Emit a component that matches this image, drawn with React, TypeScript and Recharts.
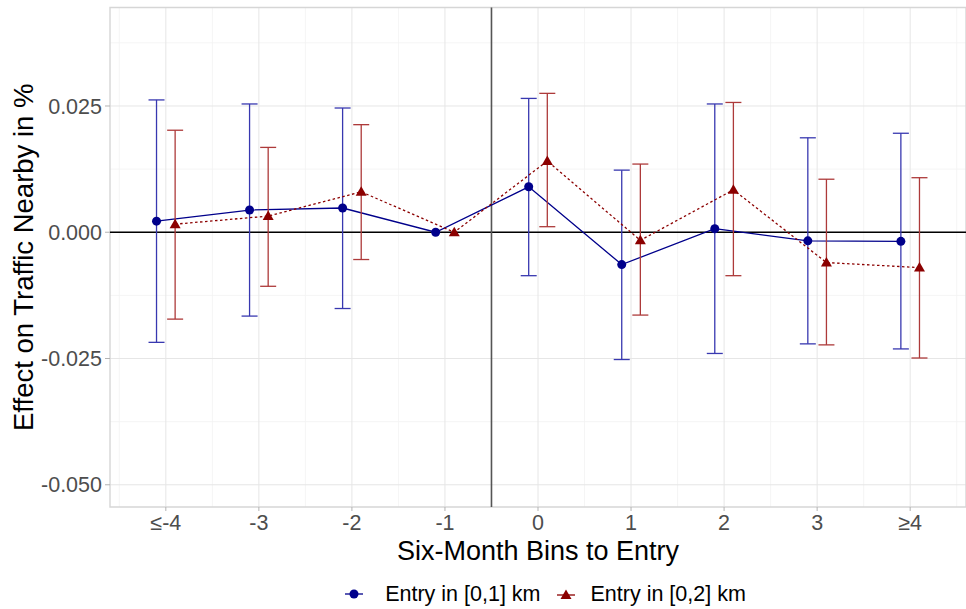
import React from "react";
import {
  ComposedChart,
  Line,
  XAxis,
  YAxis,
  CartesianGrid,
  ErrorBar,
  ReferenceLine,
  ReferenceArea,
  Legend,
} from "recharts";

// bins relative to entry (six-month periods)
const bins = ["≤-4", "-3", "-2", "-1", "0", "1", "2", "3", "≥4"];

// Entry in [0,1] km
const nearEst = [0.0022, 0.0044, 0.0048, 0, 0.009, -0.0064, 0.0007, -0.0017, -0.0018];
const nearLow = [-0.0218, -0.0166, -0.0151, null, -0.0086, -0.0252, -0.024, -0.0221, -0.0231];
const nearHigh = [0.0262, 0.0254, 0.0246, null, 0.0265, 0.0123, 0.0254, 0.0187, 0.0196];

// Entry in [0,2] km
const wideEst = [0.0016, 0.0032, 0.008, 0, 0.0141, -0.0016, 0.0084, -0.006, -0.007];
const wideLow = [-0.0172, -0.0107, -0.0054, null, 0.0011, -0.0164, -0.0086, -0.0223, -0.0249];
const wideHigh = [0.0202, 0.0168, 0.0213, null, 0.0275, 0.0135, 0.0257, 0.0105, 0.0108];

const yTicks = [-0.05, -0.025, 0, 0.025];
const yMinor = [-0.0375, -0.0125, 0.0125, 0.0375];
const xTicks = bins.map((_, i) => i + 1);
const xMinor = [0.5, 1.5, 2.5, 3.5, 4.5, 5.5, 6.5, 7.5, 8.5, 9.5];
const entryLine = 4.5; // between -1 and 0

const Y_DOMAIN: [number, number] = [-0.0544, 0.0445];
const X_DOMAIN: [number, number] = [0.4, 9.6];

const BLUE = "#00008B";
const BLUE_ERR = "#3838b0";
const RED = "#8B0000";
const RED_ERR = "#ad3a3a";

const build = (est: number[], lo: (number | null)[], hi: (number | null)[], shift: number) =>
  est.map((v, i) => ({
    x: i + 1 + shift,
    y: v,
    err: lo[i] == null || hi[i] == null ? null : [v - (lo[i] as number), (hi[i] as number) - v],
  }));

const nearData = build(nearEst, nearLow, nearHigh, -0.1);
const wideData = build(wideEst, wideLow, wideHigh, 0.1);

const Triangle = (props: any) => {
  const { cx, cy, fill, index } = props;
  if (cx == null || cy == null) return null;
  return (
    <polygon
      key={`tri-${index}`}
      points={`${cx},${cy - 5.5} ${cx - 5.5},${cy + 4} ${cx + 5.5},${cy + 4}`}
      fill={fill}
    />
  );
};

const renderLegend = () => (
  <div
    style={{
      height: 30,
      display: "flex",
      alignItems: "center",
      justifyContent: "center",
      paddingLeft: 125,
      fontSize: 21.5,
      color: "#000",
    }}
  >
    <svg width={18} height={14} style={{ marginRight: 22 }}>
      <line x1={0} y1={7} x2={18} y2={7} stroke={BLUE} strokeWidth={1.3} />
      <circle cx={9} cy={7} r={4.5} fill={BLUE} />
    </svg>
    <span style={{ marginRight: 16 }}>Entry in [0,1] km</span>
    <svg width={18} height={14} style={{ marginRight: 16 }}>
      <line x1={0} y1={8} x2={18} y2={8} stroke={RED} strokeWidth={1.3} />
      <polygon points="9,2.5 3.5,12 14.5,12" fill={RED} />
    </svg>
    <span>Entry in [0,2] km</span>
  </div>
);

const tickStyle = { fill: "#4d4d4d", fontSize: 21.5 };

export default function App() {
  return (
    <div
      style={{
        position: "absolute",
        left: 0,
        top: 0,
        width: 966,
        height: 609,
        background: "#fff",
        fontFamily: "'Liberation Sans', Arial, sans-serif",
      }}
    >
      <ComposedChart
        width={966}
        height={609}
        margin={{ top: 7.5, right: 0, bottom: 0, left: 0 }}
      >
        <CartesianGrid
          stroke="#f3f3f3"
          strokeWidth={0.8}
          horizontalValues={yMinor}
          verticalValues={xMinor}
        />
        <CartesianGrid
          stroke="#e6e6e6"
          strokeWidth={1}
          horizontalValues={yTicks}
          verticalValues={xTicks}
        />
        <ReferenceArea
          x1={X_DOMAIN[0]}
          x2={X_DOMAIN[1]}
          y1={Y_DOMAIN[0]}
          y2={Y_DOMAIN[1]}
          fill="none"
          stroke="#d6d6d6"
          strokeWidth={1.4}
        />
        <XAxis
          dataKey="x"
          type="number"
          domain={X_DOMAIN}
          allowDataOverflow
          ticks={xTicks}
          tickFormatter={(v: number) => bins[v - 1]}
          axisLine={false}
          tickLine={{ stroke: "#b3b3b3" }}
          tickSize={4}
          tickMargin={4}
          tick={tickStyle}
          height={72}
          interval={0}
          label={{
            value: "Six-Month Bins to Entry",
            position: "insideBottom",
            offset: 19,
            fill: "#000",
            fontSize: 27,
          }}
        />
        <YAxis
          type="number"
          domain={Y_DOMAIN}
          allowDataOverflow
          ticks={yTicks}
          tickFormatter={(v: number) => v.toFixed(3)}
          axisLine={false}
          tickLine={{ stroke: "#b3b3b3" }}
          tickSize={5}
          tickMargin={3}
          tick={tickStyle}
          width={110}
          interval={0}
          label={{
            value: "Effect on Traffic Nearby in %",
            angle: -90,
            position: "insideLeft",
            offset: 23,
            fill: "#000",
            fontSize: 27.5,
            style: { textAnchor: "middle" },
          }}
        />
        <ReferenceLine y={0} stroke="#000" strokeWidth={1.3} />
        <ReferenceLine x={entryLine} stroke="#555" strokeWidth={1.6} />
        <Line
          data={nearData}
          dataKey="y"
          name="Entry in [0,1] km"
          stroke={BLUE}
          strokeWidth={1.3}
          dot={{ r: 4.5, fill: BLUE, stroke: "none" }}
          activeDot={false}
          isAnimationActive={false}
        >
          <ErrorBar
            dataKey="err"
            direction="y"
            width={8}
            stroke={BLUE_ERR}
            strokeWidth={1.3}
            isAnimationActive={false}
          />
        </Line>
        <Line
          data={wideData}
          dataKey="y"
          name="Entry in [0,2] km"
          stroke={RED}
          strokeWidth={1.3}
          strokeDasharray="2.5 2.5"
          dot={(p: any) => <Triangle {...p} fill={RED} />}
          activeDot={false}
          isAnimationActive={false}
        >
          <ErrorBar
            dataKey="err"
            direction="y"
            width={8}
            stroke={RED_ERR}
            strokeWidth={1.3}
            isAnimationActive={false}
          />
        </Line>
        <Legend verticalAlign="bottom" content={renderLegend} />
      </ComposedChart>
    </div>
  );
}
